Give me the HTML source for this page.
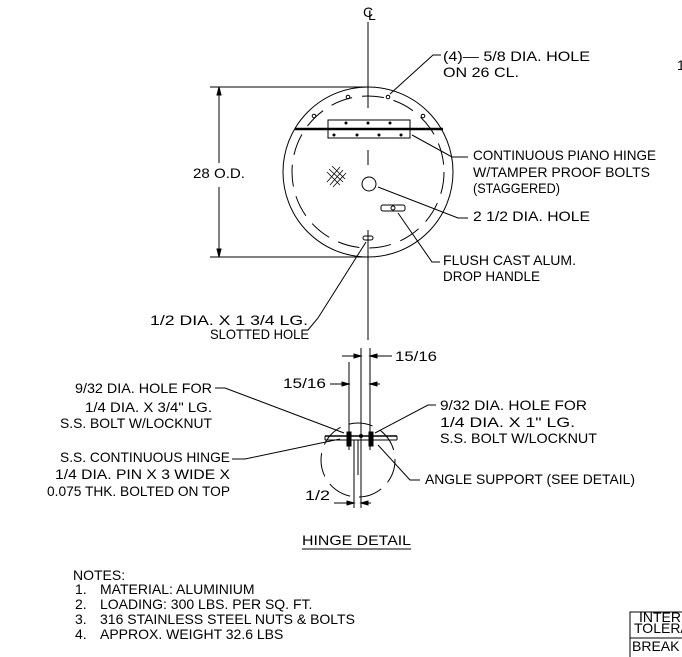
<!DOCTYPE html>
<html><head><style>
html,body{margin:0;padding:0;background:#fff}
svg{display:block}
text{font-family:"Liberation Sans",sans-serif;font-size:14px;fill:#000}
</style></head><body>
<svg width="682" height="657" viewBox="0 0 682 657" xmlns="http://www.w3.org/2000/svg" stroke="#000" fill="none" stroke-width="1">
<text x="363" y="17" stroke="none" font-size="12">C</text><text x="368" y="20" stroke="none" font-size="9">L</text>
<line x1="368" y1="22" x2="368" y2="108"/>
<line x1="368" y1="150" x2="368" y2="165"/>
<line x1="368" y1="230" x2="368" y2="340"/>
<circle cx="368" cy="172" r="85"/>
<circle cx="368" cy="172" r="76" stroke-dasharray="22,10"/>
<circle cx="348" cy="97" r="1.8"/><circle cx="388" cy="97" r="1.8"/>
<circle cx="314" cy="116" r="1.8"/><circle cx="423" cy="116" r="1.8"/>
<rect x="328" y="120" width="82" height="18"/>
<line x1="295" y1="129" x2="443" y2="129" stroke-width="2.5"/>
<g fill="#000" stroke="none">
<circle cx="346" cy="123" r="1.5"/><circle cx="368" cy="123" r="1.5"/><circle cx="390" cy="123" r="1.5"/>
<circle cx="334" cy="135" r="1.5"/><circle cx="357" cy="135" r="1.5"/><circle cx="379" cy="135" r="1.5"/><circle cx="401" cy="135" r="1.5"/>
</g>
<circle cx="369" cy="184" r="7"/>
<g stroke-width="0.8">
<line x1="327" y1="172" x2="340" y2="185"/><line x1="329" y1="169" x2="343" y2="182"/><line x1="332" y1="166" x2="345" y2="179"/>
<line x1="327" y1="182" x2="340" y2="167"/><line x1="330" y1="185" x2="343" y2="170"/><line x1="333" y1="187" x2="346" y2="173"/>
</g>
<rect x="381" y="205" width="24" height="6" rx="2"/>
<circle cx="393" cy="208" r="2"/>
<rect x="363" y="236" width="10" height="4" rx="2"/>
<line x1="210" y1="87" x2="368" y2="87"/>
<line x1="210" y1="257" x2="368" y2="257"/>
<line x1="219" y1="87" x2="219" y2="163"/>
<line x1="219" y1="187" x2="219" y2="257"/>
<path d="M219 87 L217 95 L221 95 Z M219 257 L217 249 L221 249 Z" fill="#000"/>
<polyline points="441,55 433,55 390,94"/>
<polyline points="468,157 452,157 412,135"/>
<polyline points="468,218 458,218 378,187"/>
<polyline points="440,262 432,262 398,213"/>
<polyline points="308,330 318,318 366,242"/>
<g stroke="none" lengthAdjust="spacingAndGlyphs">
<text x="193" y="178" textLength="52" lengthAdjust="spacingAndGlyphs">28 O.D.</text>
<text x="443" y="61" textLength="147" lengthAdjust="spacingAndGlyphs">(4)— 5/8 DIA. HOLE</text>
<text x="443" y="77" textLength="76" lengthAdjust="spacingAndGlyphs">ON 26 CL.</text>
<text x="677" y="70">1</text>
<text x="473" y="160" textLength="183" lengthAdjust="spacingAndGlyphs">CONTINUOUS PIANO HINGE</text>
<text x="473" y="177" textLength="177" lengthAdjust="spacingAndGlyphs">W/TAMPER PROOF BOLTS</text>
<text x="473" y="193" textLength="87" lengthAdjust="spacingAndGlyphs">(STAGGERED)</text>
<text x="473" y="221" textLength="117" lengthAdjust="spacingAndGlyphs">2 1/2 DIA. HOLE</text>
<text x="443" y="265" textLength="133" lengthAdjust="spacingAndGlyphs">FLUSH CAST ALUM.</text>
<text x="443" y="281" textLength="97" lengthAdjust="spacingAndGlyphs">DROP HANDLE</text>
<text x="150" y="325" textLength="158" lengthAdjust="spacingAndGlyphs">1/2 DIA. X 1 3/4 LG.</text>
<text x="210" y="339" textLength="99" lengthAdjust="spacingAndGlyphs">SLOTTED HOLE</text>
<text x="395" y="361" textLength="42" lengthAdjust="spacingAndGlyphs">15/16</text>
<text x="283" y="388" textLength="43" lengthAdjust="spacingAndGlyphs">15/16</text>
<text x="75" y="393" textLength="137" lengthAdjust="spacingAndGlyphs">9/32 DIA. HOLE FOR</text>
<text x="85" y="412" textLength="127" lengthAdjust="spacingAndGlyphs">1/4 DIA. X 3/4" LG.</text>
<text x="60" y="428" textLength="152" lengthAdjust="spacingAndGlyphs">S.S. BOLT W/LOCKNUT</text>
<text x="60" y="462" textLength="170" lengthAdjust="spacingAndGlyphs">S.S. CONTINUOUS HINGE</text>
<text x="55" y="479" textLength="175" lengthAdjust="spacingAndGlyphs">1/4 DIA. PIN X 3 WIDE X</text>
<text x="47" y="496" textLength="183" lengthAdjust="spacingAndGlyphs">0.075 THK. BOLTED ON TOP</text>
<text x="440" y="410" textLength="147" lengthAdjust="spacingAndGlyphs">9/32 DIA. HOLE FOR</text>
<text x="440" y="427" textLength="135" lengthAdjust="spacingAndGlyphs">1/4 DIA. X 1" LG.</text>
<text x="440" y="443" textLength="157" lengthAdjust="spacingAndGlyphs">S.S. BOLT W/LOCKNUT</text>
<text x="425" y="484" textLength="210" lengthAdjust="spacingAndGlyphs">ANGLE SUPPORT (SEE DETAIL)</text>
<text x="305" y="500" textLength="25" lengthAdjust="spacingAndGlyphs">1/2</text>
<text x="302" y="545" textLength="109" lengthAdjust="spacingAndGlyphs">HINGE DETAIL</text>
<text x="73" y="580" font-size="13">NOTES:</text>
<text x="75" y="594" font-size="13">1.</text><text x="100" y="594" font-size="13">MATERIAL: ALUMINIUM</text>
<text x="75" y="609" font-size="13">2.</text><text x="100" y="609" font-size="13">LOADING: 300 LBS. PER SQ. FT.</text>
<text x="75" y="624" font-size="13">3.</text><text x="100" y="624" font-size="13">316 STAINLESS STEEL NUTS &amp; BOLTS</text>
<text x="75" y="639" font-size="13">4.</text><text x="100" y="639" font-size="13">APPROX. WEIGHT 32.6 LBS</text>
<text x="639" y="622" font-size="9">INTERPRE</text>
<text x="634" y="633" font-size="9">TOLERANCE</text>
<text x="632" y="651" font-size="10">BREAK AL</text>
</g>
<line x1="302" y1="549" x2="411" y2="549"/>
<polyline points="682,612 630,612 630,657"/>
<line x1="630" y1="638" x2="682" y2="638"/>
<circle cx="358" cy="460" r="37" stroke-dasharray="24,9"/>
<line x1="349" y1="362" x2="349" y2="450"/>
<line x1="361" y1="348" x2="361" y2="508"/>
<line x1="370" y1="348" x2="370" y2="450"/>
<line x1="354" y1="440" x2="354" y2="508"/>
<line x1="342" y1="356" x2="361" y2="356"/><line x1="370" y1="356" x2="392" y2="356"/>
<path d="M361 356 L354 354 L354 358Z M370 356 L377 354 L377 358Z" fill="#000"/>
<line x1="330" y1="384" x2="349" y2="384"/><line x1="370" y1="384" x2="380" y2="384"/>
<path d="M349 384 L342 382 L342 386Z M370 384 L377 382 L377 386Z" fill="#000"/>
<line x1="334" y1="503" x2="354" y2="503"/><line x1="361" y1="503" x2="371" y2="503"/>
<path d="M354 503 L347 501 L347 505Z M361 503 L368 501 L368 505Z" fill="#000"/>
<line x1="325" y1="436" x2="397" y2="436" stroke-width="1.5"/>
<line x1="325" y1="440" x2="397" y2="440"/>
<line x1="325" y1="436" x2="325" y2="440"/><line x1="397" y1="436" x2="397" y2="440"/>
<line x1="358" y1="440" x2="358" y2="475"/>
<rect x="347" y="432" width="4" height="14" fill="#000"/>
<rect x="369" y="432" width="4" height="14" fill="#000"/>
<circle cx="361" cy="436" r="1.5" fill="#000"/>
<polyline points="215,388 225,388 344,433"/>
<polyline points="232,459 245,459 340,439"/>
<polyline points="436,405 428,405 375,433"/>
<polyline points="420,480 410,480 378,445"/>
</svg>
</body></html>
